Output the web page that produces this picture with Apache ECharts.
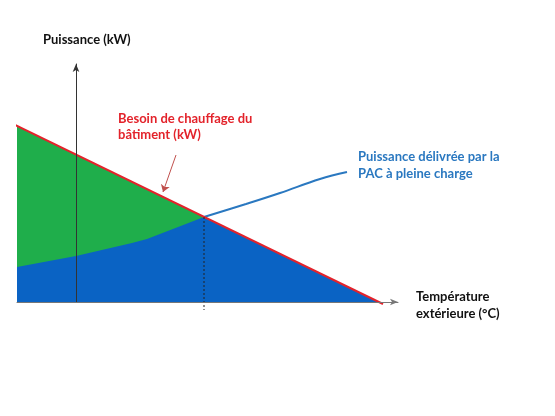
<!DOCTYPE html>
<html>
<head>
<meta charset="utf-8">
<script src="https://cdn.jsdelivr.net/npm/echarts@6/dist/echarts.min.js"></script>
<style>
  html, body { margin: 0; padding: 0; background: #fff; }
  #chart { width: 555px; height: 416px; }
</style>
</head>
<body>
<div id="chart"></div>
<script>
// besoin de chauffage du bâtiment (droite) : [température, puissance]
const besoin = [[-6.5, 17.9], [30.7, -0.2]]
// part du besoin au-dessus de la PAC (zone verte)
const besoinAppoint = [[-5.9, 17.6], [12.8, 8.5]]
// puissance PAC sous le point d'équilibre
const pacSousBesoin = [[-5.9, 3.5], [0, 4.6], [5.6, 5.9], [7.1, 6.3], [12.8, 8.5]]
// zone couverte par la PAC au-delà de l'équilibre
const besoinCouvert = [[12.8, 8.5], [30.3, 0]]
// courbe PAC à pleine charge au-delà de l'équilibre
const pacPleineCharge = [[12.8, 8.5], [17, 9.8], [20.4, 10.9], [24.4, 12.3], [27.1, 13.0]]
// point d'équilibre (ligne pointillée)
const equilibre = [[12.8, 8.5], [12.8, -0.8]]
// flèche de l'étiquette
const flecheBesoin = [[10.0, 14.7], [8.7, 11.0]]

const chart = echarts.init(document.getElementById('chart'))
const font = 'Lato, "Open Sans", sans-serif'

const option = {
  animation: false,
  grid: {left: 17, right: 157, top: 64, bottom: 114},
  xAxis: {
    type: 'value', min: -5.9, max: 32.2, z: 10,
    axisLine: {onZero: true, lineStyle: {color: '#777', width: 1}, symbol: ['none', 'arrow'], symbolSize: [5, 8]},
    axisTick: {show: false}, axisLabel: {show: false}, splitLine: {show: false},
  },
  yAxis: {
    type: 'value', min: 0, max: 23.8, z: 10,
    axisLine: {onZero: true, lineStyle: {color: '#333', width: 1}, symbol: ['none', 'arrow'], symbolSize: [5, 8]},
    axisTick: {show: false}, axisLabel: {show: false}, splitLine: {show: false},
  },
  series: [
    {
      type: 'line', data: besoinAppoint, symbol: 'none', z: 2,
      lineStyle: {width: 0}, areaStyle: {color: '#1fae4b', opacity: 1},
    },
    {
      type: 'line', data: pacSousBesoin, symbol: 'none', z: 3,
      lineStyle: {width: 0}, areaStyle: {color: '#0a63c4', opacity: 1},
    },
    {
      type: 'line', data: besoinCouvert, symbol: 'none', z: 3,
      lineStyle: {width: 0}, areaStyle: {color: '#0a63c4', opacity: 1},
    },
    {
      type: 'line', data: pacPleineCharge, symbol: 'none', smooth: 0.4, z: 4,
      lineStyle: {color: '#2a78c0', width: 2},
    },
    {
      type: 'line', data: besoin, symbol: 'none', clip: false, z: 5,
      lineStyle: {color: '#e3232b', width: 2},
    },
    {
      type: 'line', data: equilibre, symbol: 'none', clip: false, z: 6,
      lineStyle: {color: '#222', width: 1, type: [2, 2]},
    },
    {
      type: 'lines', coordinateSystem: 'cartesian2d', z: 6,
      symbol: ['none', 'arrow'], symbolSize: [0, 7],
      lineStyle: {color: '#c0504d', width: 1, opacity: 1},
      data: [{coords: flecheBesoin}],
    },
  ],
  graphic: [
    {type: 'text', left: 43, top: 33, style: {text: 'Puissance (kW)', font: `bold 13px ${font}`, fill: '#111'}},
    {type: 'text', left: 118, top: 111, style: {text: 'Besoin de chauffage du\nbâtiment (kW)', font: `bold 13px ${font}`, fill: '#e3232b', lineHeight: 16}},
    {type: 'text', left: 358, top: 148, style: {text: 'Puissance délivrée par la\nPAC à pleine charge', font: `bold 13px ${font}`, fill: '#2a78c0', lineHeight: 17}},
    {type: 'text', left: 416, top: 288, style: {text: 'Température\nextérieure (°C)', font: `bold 13px ${font}`, fill: '#111', lineHeight: 17}},
    {type: 'text', x: 94, y: 197, style: {text: 'Appoint gaz naturel\nou Effet Joule', font: `bold 13px ${font}`, fill: '#fff', align: 'center', lineHeight: 17}},
  ],
}
chart.setOption(option)
</script>
</body>
</html>
